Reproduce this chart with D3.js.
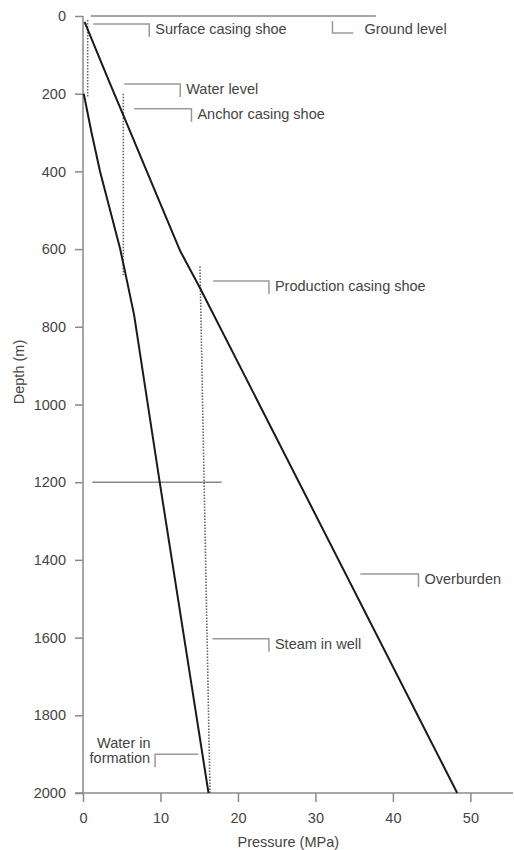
<!DOCTYPE html>
<html>
<head>
<meta charset="utf-8">
<script src="https://cdn.jsdelivr.net/npm/d3@7"></script>
<style>
  html, body { margin: 0; padding: 0; background: #fff; }
  svg text { font-family: "Liberation Sans", Arial, sans-serif; fill: #444; }
</style>
</head>
<body>
<svg id="chart" width="514" height="850"></svg>
<script>
// ---------- data ----------
const depthTicks = [0, 200, 400, 600, 800, 1000, 1200, 1400, 1600, 1800, 2000];
const pressureTicks = [0, 10, 20, 30, 40, 50];

// Overburden pressure (MPa) vs depth (m)
const overburdenPressure = [0.2, 3.3, 5.2, 9.9, 12.55, 15.1, 48.3];
const overburdenDepth    = [15, 165, 255, 479, 605, 700, 2000];

// Water in formation
const waterPressure = [0.1, 1.1, 2.2, 3.5, 4.8, 5.5, 6.6, 9.9, 16.2];
const waterDepth    = [200, 300, 400, 500, 600, 665, 770, 1200, 2000];

// Steam in well (dotted segments)
const steamSegmentNames = ["surface", "anchor", "production"];
const steamPressureTop = [0.6, 5.2, 15.1];
const steamPressureBottom = [0.6, 5.2, 16.4];
const steamDepthTop = [10, 200, 645];
const steamDepthBottom = [208, 667, 2000];

// Reference horizontal lines (depth, pressure start, pressure end)
const refLineDepth = [0, 1200];
const refLineFrom = [1.0, 1.2];
const refLineTo = [37.8, 17.9];

// Callout labels: depth of leader, pressure where leader starts / bends
const calloutLabels = ["Surface casing shoe", "Water level", "Anchor casing shoe",
  "Production casing shoe", "Overburden", "Steam in well"];
const calloutDepth = [20.6, 175, 239, 682, 1436, 1603];
const calloutFrom = [1.33, 5.33, 6.6, 16.8, 35.8, 16.7];
const calloutTo = [8.55, 12.55, 14.0, 24.0, 43.3, 24.0];

// ---------- chart ----------
const svg = d3.select("#chart");
const x = d3.scaleLinear().domain([0, 55.5]).range([83, 513]);
const y = d3.scaleLinear().domain([0, 2000]).range([16, 793]);

const axisColor = "#8a8a8a";
const leaderColor = "#9a9a9a";

// Y axis
const yAxis = svg.append("g").attr("transform", `translate(${x(0)},0)`)
  .call(d3.axisLeft(y).tickValues(depthTicks).tickSize(8).tickPadding(9).tickFormat(d3.format("d")));
// X axis
const xAxis = svg.append("g").attr("transform", `translate(0,${y(2000)})`)
  .call(d3.axisBottom(x).tickValues(pressureTicks).tickSize(9).tickPadding(8));
[yAxis, xAxis].forEach(g => {
  g.select(".domain").remove();
  g.selectAll(".tick line").attr("stroke", axisColor).attr("stroke-width", 1.5);
  g.selectAll(".tick text").attr("fill", "#444").style("font-size", "14.5px")
    .style("font-family", '"Liberation Sans", Arial, sans-serif');
});
xAxis.selectAll(".tick text").attr("dy", "0.9em");
// axis lines
svg.append("line").attr("x1", x(0)).attr("x2", x(0)).attr("y1", y(0)).attr("y2", y(2000))
  .attr("stroke", axisColor).attr("stroke-width", 1.5);
svg.append("line").attr("x1", x(0) - 8).attr("x2", x(55.5)).attr("y1", y(2000)).attr("y2", y(2000))
  .attr("stroke", axisColor).attr("stroke-width", 1.5);

// axis titles
svg.append("text").attr("x", x(26.5)).attr("y", 843).attr("text-anchor", "middle")
  .attr("dominant-baseline", "middle").style("font-size", "14.5px").text("Pressure (MPa)");
svg.append("text").attr("transform", "translate(20,372) rotate(-90)").attr("text-anchor", "middle")
  .attr("dominant-baseline", "middle").style("font-size", "14.5px").text("Depth (m)");

// reference horizontal lines
refLineDepth.forEach((d, i) => {
  svg.append("line").attr("x1", x(refLineFrom[i])).attr("x2", x(refLineTo[i]))
    .attr("y1", y(d)).attr("y2", y(d)).attr("stroke", "#888").attr("stroke-width", 1.5);
});

// line generator
const line = d3.line().x(d => x(d[0])).y(d => y(d[1]));

// steam dotted segments
steamSegmentNames.forEach((n, i) => {
  svg.append("path")
    .datum([[steamPressureTop[i], steamDepthTop[i]], [steamPressureBottom[i], steamDepthBottom[i]]])
    .attr("d", line).attr("fill", "none").attr("stroke", "#666")
    .attr("stroke-width", 1.6).attr("stroke-dasharray", "1.5,1.5");
});

// overburden
svg.append("path").datum(overburdenPressure.map((p, i) => [p, overburdenDepth[i]]))
  .attr("d", line).attr("fill", "none").attr("stroke", "#1a1a1a").attr("stroke-width", 2);
// water in formation
svg.append("path").datum(waterPressure.map((p, i) => [p, waterDepth[i]]))
  .attr("d", line).attr("fill", "none").attr("stroke", "#1a1a1a").attr("stroke-width", 2);

// callouts
calloutLabels.forEach((lab, i) => {
  const yy = y(calloutDepth[i]);
  const x0 = x(calloutFrom[i]), x1 = x(calloutTo[i]);
  svg.append("path").attr("d", `M${x0},${yy}H${x1}V${yy + 13}`)
    .attr("fill", "none").attr("stroke", leaderColor).attr("stroke-width", 1.5);
  svg.append("text").attr("x", x1 + 6).attr("y", yy + 6).attr("dominant-baseline", "middle")
    .style("font-size", "14.5px").text(lab);
});

// Ground level callout (L-shaped bracket)
{
  const gx = x(32.2), gx2 = x(34.9);
  svg.append("path").attr("d", `M${gx},${y(12.9)}V${y(43.8)}H${gx2}`)
    .attr("fill", "none").attr("stroke", leaderColor).attr("stroke-width", 1.5);
  svg.append("text").attr("x", gx2 + 11).attr("y", 30).attr("dominant-baseline", "middle")
    .style("font-size", "14.5px").text("Ground level");
}

// Water in formation callout (bracket to the left, two-line label)
{
  const yy = y(1900);
  const xa = x(14.9), xb = x(9.3);
  svg.append("path").attr("d", `M${xa},${yy}H${xb}V${yy + 13}`)
    .attr("fill", "none").attr("stroke", leaderColor).attr("stroke-width", 1.5);
  const t = svg.append("text").attr("text-anchor", "end").style("font-size", "14.5px");
  t.append("tspan").attr("x", xb - 4.5).attr("y", 744).attr("dominant-baseline", "middle").text("Water in");
  t.append("tspan").attr("x", xb - 5).attr("y", 759).attr("dominant-baseline", "middle").text("formation");
}
</script>
</body>
</html>
